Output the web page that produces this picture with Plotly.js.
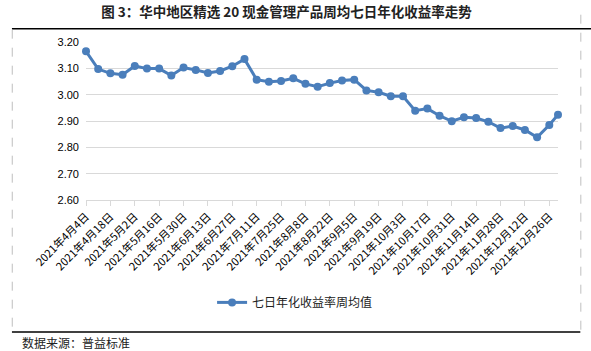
<!DOCTYPE html>
<html>
<head>
<meta charset="utf-8">
<script src="https://cdn.plot.ly/plotly-3.0.1.min.js"></script>
<style>html,body{margin:0;padding:0;background:#fff;}#chart{width:591px;height:351px;}</style>
</head>
<body>
<div id="chart"></div>
<script>
// Data
const dates = [
  '2021-04-04','2021-04-11','2021-04-18','2021-04-25','2021-05-02','2021-05-09','2021-05-16','2021-05-23','2021-05-30',
  '2021-06-06','2021-06-13','2021-06-20','2021-06-27','2021-07-04','2021-07-11','2021-07-18','2021-07-25',
  '2021-08-01','2021-08-08','2021-08-15','2021-08-22','2021-08-29','2021-09-05','2021-09-12','2021-09-19','2021-09-26',
  '2021-10-03','2021-10-10','2021-10-17','2021-10-24','2021-10-31','2021-11-07','2021-11-14','2021-11-21','2021-11-28',
  '2021-12-05','2021-12-12','2021-12-19','2021-12-26','2021-12-31'
];
const yields = [
  3.165, 3.097, 3.081, 3.076, 3.109, 3.099, 3.099, 3.073, 3.103,
  3.094, 3.082, 3.090, 3.108, 3.135, 3.057, 3.049, 3.052,
  3.062, 3.041, 3.030, 3.044, 3.054, 3.057, 3.016, 3.009, 2.994,
  2.994, 2.939, 2.947, 2.920, 2.899, 2.914, 2.911, 2.897, 2.873,
  2.881, 2.866, 2.838, 2.885, 2.924
];
const tickDates = [
  '2021-04-04','2021-04-18','2021-05-02','2021-05-16','2021-05-30','2021-06-13','2021-06-27','2021-07-11','2021-07-25',
  '2021-08-08','2021-08-22','2021-09-05','2021-09-19','2021-10-03','2021-10-17','2021-10-31','2021-11-14','2021-11-28',
  '2021-12-12','2021-12-26'
];
const tickLabels = [
  '2021年4月4日','2021年4月18日','2021年5月2日','2021年5月16日','2021年5月30日','2021年6月13日','2021年6月27日',
  '2021年7月11日','2021年7月25日','2021年8月8日','2021年8月22日','2021年9月5日','2021年9月19日','2021年10月3日',
  '2021年10月17日','2021年10月31日','2021年11月14日','2021年11月28日','2021年12月12日','2021年12月26日'
];
const seriesName = '七日年化收益率周均值';
const titleText = '图 3：华中地区精选 20 现金管理产品周均七日年化收益率走势';
const sourceText = '数据来源：普益标准';

// Pixel helpers
const W = 591, H = 351;
const L = 86, R = 557.7, T = 42.3, B = 200.3;
const px = x => (x - L) / (R - L);
const py = y => 1 - (y - T) / (B - T);

const cjk = '"Noto Sans CJK SC", "Noto Sans", sans-serif';

const trace = {
  x: dates, y: yields, type: 'scatter', mode: 'lines+markers', name: seriesName,
  line: {color: '#4a7ebb', width: 3},
  marker: {color: '#4a7ebb', size: 8},
  cliponaxis: false
};

const layout = {
  width: W, height: H,
  margin: {l: L, r: W - R, t: T, b: H - B},
  paper_bgcolor: '#fff', plot_bgcolor: '#fff',
  showlegend: true,
  legend: {orientation: 'h', x: px(212), xanchor: 'left', y: py(302.7), yanchor: 'middle',
    font: {family: cjk, size: 12, color: '#222'}, bgcolor: 'rgba(0,0,0,0)'},
  xaxis: {
    type: 'date', range: ['2021-04-04', '2021-12-31'],
    tickmode: 'array', tickvals: tickDates, ticktext: tickLabels, tickangle: -45,
    tickfont: {family: cjk, size: 11, color: '#000'},
    showgrid: false, zeroline: false, showline: true, linecolor: '#d9d9d9', linewidth: 1,
    ticks: 'outside', ticklen: 5, tickcolor: '#d9d9d9', tickwidth: 1
  },
  yaxis: {
    range: [2.6, 3.2], tickmode: 'linear', tick0: 2.6, dtick: 0.1, tickformat: '.2f',
    tickfont: {family: '"Liberation Sans", Arial, sans-serif', size: 11, color: '#000'},
    showgrid: true, gridcolor: '#d9d9d9', gridwidth: 1, zeroline: false, showline: false,
    ticks: '', ticklabelstandoff: 6
  },
  title: {text: '<b>' + titleText + '</b>', x: 19 / W, xanchor: 'left', xref: 'paper',
    y: 1 - 12 / H, yanchor: 'middle', yref: 'container',
    font: {family: cjk, size: 13.5, color: '#222'}},
  annotations: [
    {text: sourceText, xref: 'paper', yref: 'paper', x: px(20), y: py(342.5), xanchor: 'left', yanchor: 'middle',
      showarrow: false, font: {family: cjk, size: 12, color: '#222'}}
  ],
  shapes: [
    {type: 'line', xref: 'paper', yref: 'paper', x0: px(12), x1: px(591), y0: py(29), y1: py(29), line: {color: '#000', width: 1.5}},
    {type: 'line', xref: 'paper', yref: 'paper', x0: px(12), x1: px(580), y0: py(332.3), y1: py(332.3), line: {color: '#000', width: 1.5}},
    {type: 'line', xref: 'paper', yref: 'paper', x0: px(12.3), x1: px(12.3), y0: py(30), y1: py(331.5), line: {color: '#bfbfbf', width: 1, dash: 'dash'}},
    {type: 'line', xref: 'paper', yref: 'paper', x0: px(580.5), x1: px(580.5), y0: py(15), y1: py(331.5), line: {color: '#bfbfbf', width: 1, dash: 'dash'}}
  ]
};

Plotly.newPlot('chart', [trace], layout, {displayModeBar: false, staticPlot: true});
</script>
</body>
</html>
